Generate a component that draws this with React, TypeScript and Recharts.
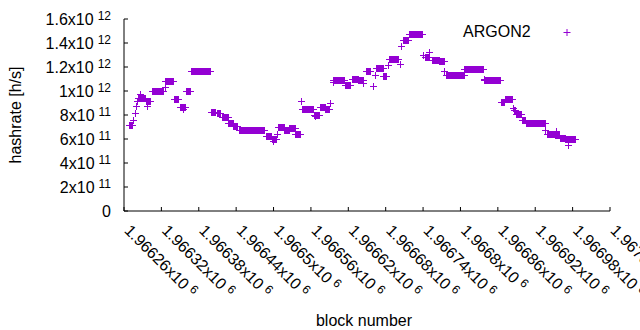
import React from 'react'
import { ScatterChart, Scatter, XAxis, YAxis, Legend } from 'recharts'

// runs of blocks with the same hashrate (single points have start === end)
const runStart = [
  1966269, 1966275, 1966278, 1966280, 1966282, 1966283, 1966286, 1966296, 1966298, 1966305,
  1966326, 1966327, 1966341, 1966351, 1966356, 1966360, 1966369, 1966401, 1966402, 1966410,
  1966418, 1966428, 1966436, 1966445, 1966488, 1966498, 1966500, 1966506, 1966508, 1966518,
  1966526, 1966536, 1966545, 1966546, 1966556, 1966567, 1966565, 1966575, 1966584, 1966592,
  1966596, 1966597, 1966616, 1966626, 1966637, 1966645, 1966649, 1966660, 1966663, 1966665,
  1966677, 1966684, 1966686, 1966703, 1966706, 1966708, 1966718, 1966741, 1966751, 1966744,
  1966755, 1966767, 1966775, 1966778, 1966807, 1966838, 1966839, 1966866, 1966872, 1966885,
  1966886, 1966890, 1966899, 1966906, 1966937, 1966939, 1966954, 1966952, 1966960, 1966969,
  1966973, 1966976,
]
const runEnd = [
  1966274, 1966275, 1966278, 1966280, 1966282, 1966294, 1966286, 1966302, 1966298, 1966324,
  1966326, 1966339, 1966348, 1966359, 1966356, 1966366, 1966399, 1966401, 1966407, 1966415,
  1966427, 1966435, 1966442, 1966486, 1966497, 1966505, 1966500, 1966506, 1966517, 1966525,
  1966535, 1966544, 1966545, 1966555, 1966564, 1966567, 1966573, 1966583, 1966590, 1966592,
  1966596, 1966614, 1966624, 1966636, 1966644, 1966645, 1966656, 1966660, 1966663, 1966676,
  1966682, 1966684, 1966700, 1966703, 1966706, 1966717, 1966739, 1966741, 1966751, 1966750,
  1966766, 1966774, 1966775, 1966806, 1966837, 1966838, 1966865, 1966871, 1966884, 1966885,
  1966888, 1966898, 1966904, 1966936, 1966937, 1966951, 1966954, 1966959, 1966968, 1966975,
  1966973, 1966985,
]
const runHashrate = [
  7.11e11, 7.58e11, 8.13e11, 8.71e11, 9.12e11, 9.39e11, 9.72e11, 9.11e11, 8.69e11, 9.97e11,
  1.029e12, 1.083e12, 9.32e11, 8.64e11, 8.42e11, 9.97e11, 1.164e12, 8.19e11, 8.25e11, 8.1e11,
  7.81e11, 7.31e11, 7.03e11, 6.75e11, 6.19e11, 5.96e11, 5.78e11, 6.39e11, 6.94e11, 6.71e11,
  6.89e11, 6.39e11, 9.11e11, 8.42e11, 8.5e11, 7.86e11, 7.97e11, 8.64e11, 8.46e11, 8.97e11,
  1.072e12, 1.085e12, 1.047e12, 1.096e12, 1.085e12, 1.064e12, 1.161e12, 1.036e12, 1.133e12, 1.189e12,
  1.119e12, 1.21e12, 1.265e12, 1.222e12, 1.369e12, 1.419e12, 1.472e12, 1.3e12, 1.322e12, 1.283e12,
  1.256e12, 1.247e12, 1.161e12, 1.131e12, 1.181e12, 1.092e12, 1.086e12, 9.04e11, 9.31e11, 8.56e11,
  8.38e11, 8.08e11, 7.53e11, 7.31e11, 6.69e11, 6.4e11, 6.61e11, 6.27e11, 6.06e11, 5.92e11,
  5.5e11, 5.97e11,
]

const xTicks = [
  1966260, 1966320, 1966380, 1966440, 1966500, 1966560, 1966620,
  1966680, 1966740, 1966800, 1966860, 1966920, 1966980, 1967040,
]
const yTicks = [0, 2e11, 4e11, 6e11, 8e11, 1e12, 1.2e12, 1.4e12, 1.6e12]
const yMantissa = ['0', '2', '4', '6', '8', '1', '1.2', '1.4', '1.6']
const yExponent = ['', '11', '11', '11', '11', '12', '12', '12', '12']

const points: { block: number; hashrate: number }[] = []
runStart.forEach((s, i) => {
  for (let b = s; b <= runEnd[i]; b++) points.push({ block: b, hashrate: runHashrate[i] })
})

const FONT = '"Liberation Sans", Arial, sans-serif'
const PURPLE = '#9400d3'
const crisp = (v: number) => Math.round(v - 0.5) + 0.5

const Plus = (props: any) => {
  const { cx, cy } = props
  if (cx == null || cy == null) return null
  const x = crisp(cx)
  const y = crisp(cy)
  return <path d={`M${x - 3.5},${y}h7M${x},${y - 3.5}v7`} stroke={PURPLE} strokeWidth={1} fill="none" />
}

const XTick = (props: any) => {
  const { x, y, payload } = props
  return (
    <g>
      <line x1={x} y1={y} x2={x} y2={y - 4} stroke="#000" />
      <text transform={`translate(${x - 0.5},${y + 20.5}) rotate(45)`} fontSize={16} fontFamily={FONT} fill="#000">
        {String(payload.value / 1e6)}x10<tspan dx={4} dy={-5} fontSize={12}>6</tspan>
      </text>
    </g>
  )
}

const YTick = (props: any) => {
  const { x, y, index } = props
  return (
    <g>
      <line x1={x} y1={y} x2={x + 4} y2={y} stroke="#000" />
      <text x={x - 13} y={y + 5.5} textAnchor="end" fontSize={16} fontFamily={FONT} fill="#000">
        {yMantissa[index]}
        {yExponent[index] && (
          <>
            x10<tspan dx={4} dy={-5} fontSize={12}>{yExponent[index]}</tspan>
          </>
        )}
      </text>
    </g>
  )
}

const TopTick = (props: any) => <line x1={props.x} y1={props.y} x2={props.x} y2={props.y + 4} stroke="#000" />
const RightTick = (props: any) => <line x1={props.x} y1={props.y} x2={props.x - 4} y2={props.y} stroke="#000" />

const XTitle = (props: any) => {
  const { x, y, width } = props.viewBox
  return (
    <text x={x + width / 2 - 3} y={y + 114.5} textAnchor="middle" fontSize={16} fontFamily={FONT} fill="#000">
      block number
    </text>
  )
}

const YTitle = (props: any) => {
  const { y, height } = props.viewBox
  return (
    <text transform={`translate(21,${y + height / 2}) rotate(-90)`} textAnchor="middle" fontSize={16} fontFamily={FONT} fill="#000">
      hashrate [h/s]
    </text>
  )
}

const KeyBox = (props: any) => {
  const name = props.payload && props.payload[0] ? props.payload[0].value : 'ARGON2'
  return (
    <svg width={130} height={24} style={{ display: 'block' }}>
      <text x={80.7} y={17.3} textAnchor="end" fontSize={16} fontFamily={FONT} fill="#000">{name}</text>
      <path d="M113.5,12.5h7M117,9v7" stroke={PURPLE} strokeWidth={1} fill="none" />
    </svg>
  )
}

export default function App() {
  return (
    <div style={{ position: 'absolute', left: 0, top: 0, background: '#fff' }}>
      <ScatterChart width={640} height={330} margin={{ top: 19, right: 30, bottom: 0, left: 0 }}>
        <XAxis
          dataKey="block"
          type="number"
          domain={[1966260, 1967040]}
          ticks={xTicks}
          interval={0}
          allowDataOverflow
          height={119}
          tickSize={0}
          tickMargin={0}
          tickLine={false}
          tick={<XTick />}
          axisLine={{ stroke: '#000' }}
          label={<XTitle />}
        />
        <XAxis
          xAxisId="top"
          orientation="top"
          type="number"
          domain={[1966260, 1967040]}
          ticks={xTicks}
          interval={0}
          allowDataOverflow
          height={0}
          tickSize={0}
          tickMargin={0}
          tickLine={false}
          tick={<TopTick />}
          axisLine={{ stroke: '#000' }}
        />
        <YAxis
          dataKey="hashrate"
          type="number"
          domain={[0, 1.6e12]}
          ticks={yTicks}
          interval={0}
          allowDataOverflow
          width={124}
          tickSize={0}
          tickMargin={0}
          tickLine={false}
          tick={<YTick />}
          axisLine={{ stroke: '#000' }}
          label={<YTitle />}
        />
        <YAxis
          yAxisId="right"
          orientation="right"
          type="number"
          domain={[0, 1.6e12]}
          ticks={yTicks}
          interval={0}
          allowDataOverflow
          width={0}
          tickSize={0}
          tickMargin={0}
          tickLine={false}
          tick={<RightTick />}
          axisLine={{ stroke: '#000' }}
        />
        <Legend
          layout="horizontal"
          verticalAlign="middle"
          align="center"
          wrapperStyle={{ position: 'absolute', left: 450, top: 20, width: 130, height: 24 }}
          content={<KeyBox />}
        />
        <Scatter name="ARGON2" data={points} fill={PURPLE} shape={<Plus />} isAnimationActive={false} />
      </ScatterChart>
    </div>
  )
}
